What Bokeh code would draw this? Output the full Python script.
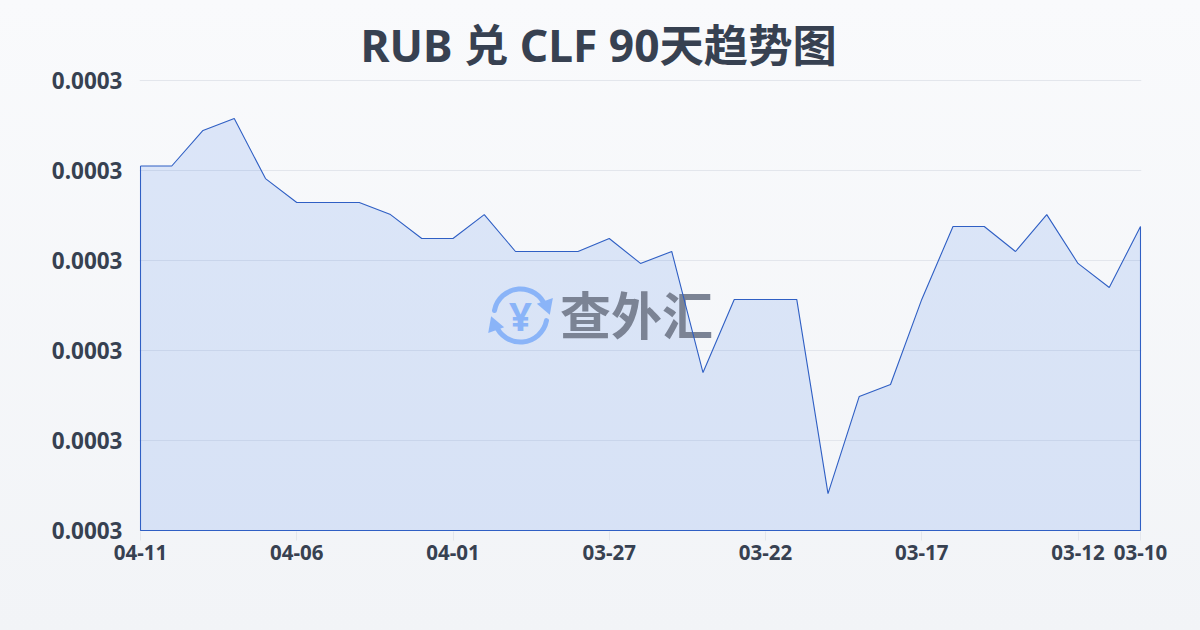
from bokeh.plotting import figure
from bokeh.models import FixedTicker, Range1d, GlobalInlineStyleSheet, NumeralTickFormatter
from bokeh.core.properties import value
from bokeh.embed import file_html
from bokeh.resources import INLINE

title = "RUB 兑 CLF 90天趋势图"
dates = ["04-11","04-10","04-09","04-08","04-07","04-06","04-05","04-04","04-03","04-02","04-01",
         "03-31","03-30","03-29","03-28","03-27","03-26","03-25","03-24","03-23","03-22",
         "03-21","03-20","03-19","03-18","03-17","03-16","03-15","03-14","03-13","03-12","03-11","03-10"]
rates = [0.0002962,0.0002962,0.00029778,0.00029831,0.00029564,0.00029458,0.00029458,0.00029458,
         0.00029404,0.00029298,0.00029298,0.00029404,0.0002924,0.0002924,0.0002924,0.00029298,
         0.00029187,0.0002924,0.00028702,0.00029027,0.00029027,0.00029027,0.00028164,0.00028596,
         0.00028649,0.00029027,0.00029351,0.00029351,0.0002924,0.00029404,0.00029187,0.0002908,0.00029351]
y_ticks = [0.00028,0.000284,0.000288,0.000292,0.000296,0.0003]
shown_dates = ["04-11","04-06","04-01","03-27","03-22","03-17","03-12","03-10"]

FONT = "Noto Sans, Noto Sans CJK SC, sans-serif"
TEXT = "#374151"
ICON = "#8ab4f8"
xs = list(range(len(dates)))
ymin, ymax = y_ticks[0], y_ticks[-1]
PX = 1/31.25                  # one screen pixel along x, in data units
PY = 0.000004/90              # one screen pixel along y, in data units

p = figure(width=1200, height=630, output_backend="svg", toolbar_location=None,
           x_range=Range1d(-PX, len(dates)-1+PX), y_range=Range1d(ymin-PY, ymax+PY),
           min_border_left=139, min_border_right=59, min_border_top=79, min_border_bottom=99,
           background_fill_alpha=0, border_fill_alpha=0, outline_line_alpha=0,
           title=title)
p.stylesheets = [GlobalInlineStyleSheet(css="html{min-height:100%;background:linear-gradient(180deg,#f9fafc 0%,#f2f4f7 100%);}body{background:transparent;}")]

p.title.align = "left"
p.title.offset = 221
p.title.standoff = 10
p.title.text_font = FONT
p.title.text_font_size = "44.3px"
p.title.text_font_style = "bold"
p.title.text_color = TEXT

p.xgrid.visible = False
p.ygrid.grid_line_color = "#e3e6ec"
p.ygrid.grid_line_width = 1
p.ygrid.ticker = FixedTicker(ticks=y_ticks)

p.yaxis.ticker = FixedTicker(ticks=y_ticks)
p.yaxis.formatter = NumeralTickFormatter(format="0.0000")
p.yaxis.axis_line_color = None
p.yaxis.major_tick_line_color = None
p.yaxis.minor_tick_line_color = None
p.yaxis.major_tick_out = 0
p.yaxis.major_label_standoff = 17
p.yaxis.major_label_text_font = FONT
p.yaxis.major_label_text_font_size = "22.5px"
p.yaxis.major_label_text_font_style = "bold"
p.yaxis.major_label_text_color = TEXT

p.xaxis.ticker = FixedTicker(ticks=[dates.index(d) for d in shown_dates])
p.xaxis.major_label_overrides = {dates.index(d): d for d in shown_dates}
p.xaxis.axis_line_color = None
p.xaxis.minor_tick_line_color = None
p.xaxis.major_tick_line_color = "#e3e6ec"
p.xaxis.major_tick_out = 9
p.xaxis.major_tick_in = 0
p.xaxis.major_label_standoff = 4
p.xaxis.major_label_text_font = FONT
p.xaxis.major_label_text_font_size = "20.5px"
p.xaxis.major_label_text_font_style = "bold"
p.xaxis.major_label_text_color = TEXT

# area
p.patch(xs + [xs[-1], xs[0]], rates + [ymin, ymin], fill_color="#1a5ce8", fill_alpha=0.125, line_color=None)

# watermark (underneath the outline)
cx = 380*PX
cy = ymin + 215*PY
mx = 496*PX
p.arc(x=[cx], y=[cy], radius=26.5, radius_units="screen", start_angle=0.35, end_angle=2.95,
      line_color=ICON, line_width=5, line_cap="round")
p.arc(x=[cx], y=[cy], radius=26.5, radius_units="screen", start_angle=3.49, end_angle=6.09,
      line_color=ICON, line_width=5, line_cap="round")
p.scatter(x=[cx + 26*PX], y=[cy + 10*PY], marker="triangle", size=17, angle=-2.8,
          fill_color=ICON, line_color=None)
p.scatter(x=[cx - 26*PX], y=[cy - 10*PY], marker="triangle", size=17, angle=0.35,
          fill_color=ICON, line_color=None)
p.text(x=[cx], y=[cy], text=["¥"], text_font=value(FONT), text_font_style="bold",
       text_font_size="40px", text_color=ICON, text_align="center", text_baseline="middle")
p.text(x=[mx], y=[cy + 3*PY], text=["查外汇"], text_font=value("Noto Sans CJK SC"), text_font_style="bold",
       text_font_size="51px", text_color="#7b8394", text_align="center", text_baseline="middle")

# outline
p.line(xs + [xs[-1], xs[0], xs[0]], rates + [ymin, ymin, rates[0]], line_color="#2f5fc4", line_width=1.1)

open("out.html", "w").write(file_html(p, INLINE))
